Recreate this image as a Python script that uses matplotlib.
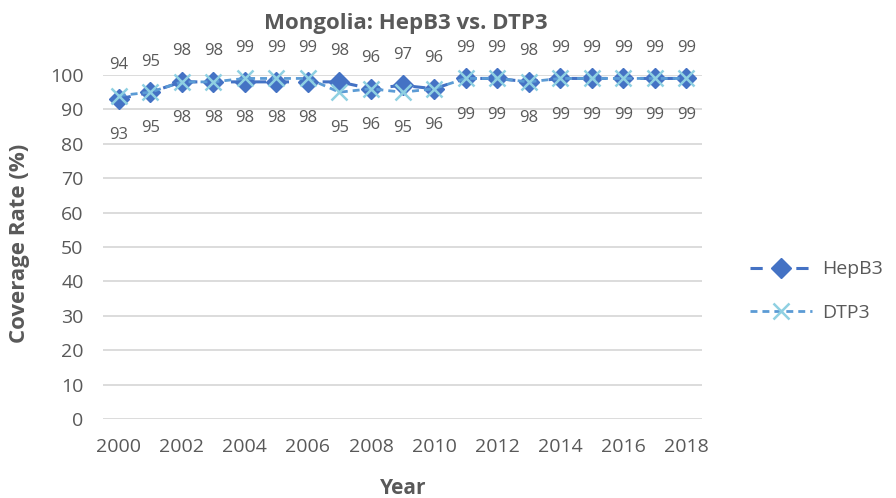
import matplotlib
matplotlib.use('Agg')
import matplotlib.pyplot as plt
import numpy as np

plt.rcParams['font.family'] = ['Open Sans', 'DejaVu Sans']

# 数据
years = list(range(2000, 2019))
hepb3 = [93, 95, 98, 98, 98, 98, 98, 98, 96, 97, 96, 99, 99, 98, 99, 99, 99, 99, 99]
dtp3 = [94, 95, 98, 98, 99, 99, 99, 95, 96, 95, 96, 99, 99, 98, 99, 99, 99, 99, 99]
yticks = list(range(0, 101, 10))

text_color = '#595959'
grid_color = '#d9d9d9'
hep_color = '#4472c4'
dtp_line = '#5b9bd5'
dtp_marker = '#8fd0e2'

fig = plt.figure(figsize=(8.96, 4.98), dpi=100)
ax = fig.add_axes([103 / 896, 1 - 419 / 498, (702 - 103) / 896, (419 - 75) / 498])

x = np.arange(len(years))
ax.plot(x, hepb3, color=hep_color, lw=2.2, dashes=(4, 3.5), marker='D', ms=10,
        mfc=hep_color, mec=hep_color, label='HepB3', zorder=3, clip_on=False)
ax.plot(x, dtp3, color=dtp_line, lw=2.0, dashes=(2.5, 1.8), marker='x', ms=11,
        mew=1.8, mec=dtp_marker, label='DTP3', zorder=4, clip_on=False)

# 数据标签：大的值在上方，小的值在下方
for xi, h, d in zip(x, hepb3, dtp3):
    hi, lo = max(h, d), min(h, d)
    ax.annotate(str(hi), (xi, hi), xytext=(0, 22), textcoords='offset points',
                ha='center', va='center', fontsize=12, color=text_color,
                annotation_clip=False)
    ax.annotate(str(lo), (xi, lo), xytext=(0, -26), textcoords='offset points',
                ha='center', va='center', fontsize=12, color=text_color,
                annotation_clip=False)

ax.set_xlim(-0.5, len(years) - 0.5)
ax.set_ylim(0, 100)
ax.set_yticks(yticks)
ax.set_xticks(x[::2])
ax.set_xticklabels([str(y) for y in years[::2]])
ax.tick_params(axis='both', length=0, labelsize=14, colors=text_color)
ax.tick_params(axis='y', pad=14)
ax.tick_params(axis='x', pad=14)
ax.grid(axis='y', color=grid_color, lw=1.3)
ax.set_axisbelow(True)
for s in ax.spines.values():
    s.set_visible(False)

fig.text(406 / 896, 1 - 23 / 498, 'Mongolia: HepB3 vs. DTP3', ha='center', va='center',
         fontsize=16, fontweight='bold', color=text_color)
fig.text(20 / 896, 1 - 243 / 498, 'Coverage Rate (%)', rotation=90, ha='center', va='center',
         fontsize=16, fontweight='bold', color=text_color)
fig.text(403 / 896, 1 - 488 / 498, 'Year', ha='center', va='center',
         fontsize=15, fontweight='bold', color=text_color)

leg = fig.legend(loc='center left', bbox_to_anchor=(742 / 896, 1 - 291 / 498),
                 frameon=False, fontsize=14, handlelength=3.2, labelspacing=1.3,
                 handletextpad=0.5, borderaxespad=0)
for t in leg.get_texts():
    t.set_color(text_color)

fig.savefig('out.png', dpi=100)
